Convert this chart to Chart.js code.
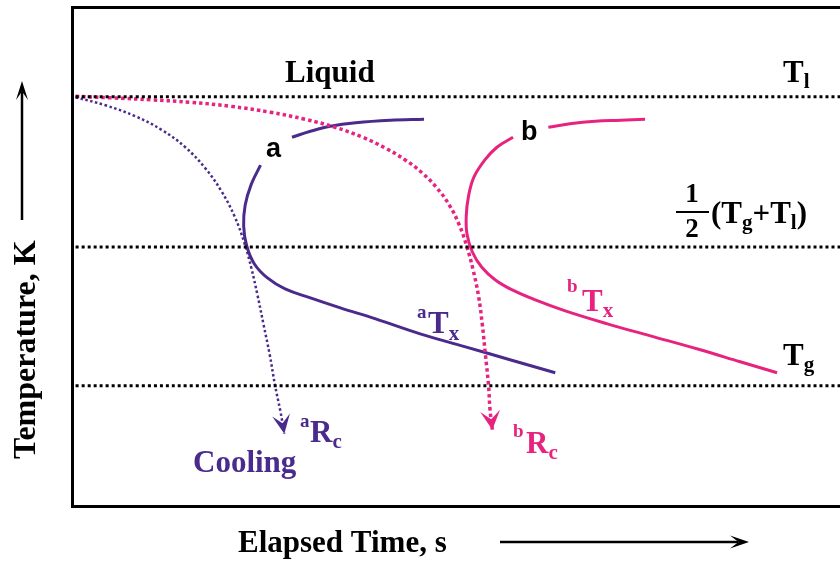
<!DOCTYPE html>
<html>
<head>
<meta charset="utf-8">
<script src="https://cdn.jsdelivr.net/npm/chart.js@4.4.0/dist/chart.umd.min.js"></script>
<style>
  body { margin: 0; background: #fff; }
  canvas { display: block; }
</style>
</head>
<body>
<canvas id="tttChart" width="840" height="561"></canvas>
<script>
// Schematic TTT diagram, time and temperature in arbitrary units (0-100)
const levelNames = ['Tl', 'half', 'Tg'];
const levelValues = [82.1, 52, 24.2];
const levelX = [0.4, 100];

// curve a (solid), split where the "a" label sits
const aUpperX = [28.6, 31.0, 33.6, 36.9, 41.4, 45.8];
const aUpperY = [74.0, 75.2, 76.2, 76.9, 77.4, 77.6];
const aLowerX = [24.5, 23.3, 22.5, 22.3, 22.7, 23.7, 25.4, 27.7, 31.0, 34.9, 39.5, 45.3, 51.2, 57.0, 62.9];
const aLowerY = [68.4, 64.6, 60.4, 56.2, 52.2, 48.6, 45.8, 43.6, 41.8, 39.8, 37.6, 34.6, 32.0, 29.4, 26.8];

// curve b (solid)
const bUpperX = [62.0, 64.8, 68.1, 71.4, 74.6];
const bUpperY = [76.0, 76.7, 77.2, 77.4, 77.6];
const bLowerX = [57.4, 55.3, 53.7, 52.3, 51.6, 51.3, 51.4, 52.1, 53.3, 55.1, 57.3, 60.3, 64.2, 69.7, 75.3, 81.8, 87.0, 91.8];
const bLowerY = [74.0, 72.0, 69.4, 66.0, 62.2, 58.2, 54.6, 51.0, 48.0, 45.4, 43.4, 41.4, 39.2, 36.6, 34.2, 31.4, 29.0, 26.8];

// critical cooling curves (dotted, with arrow)
const aCoolX = [0.4, 4.3, 8.2, 11.7, 14.7, 17.3, 19.4, 21.1, 22.4, 23.3, 24.1, 24.9, 25.7, 26.4, 27.1, 27.6];
const aCoolY = [82.0, 80.4, 78.2, 75.4, 72.0, 67.8, 63.2, 58.2, 52.8, 47.8, 42.4, 36.4, 30.4, 24.2, 19.0, 14.6];
const bCoolX = [0.4, 5.0, 10.2, 15.4, 20.6, 25.8, 30.3, 34.2, 37.8, 40.8, 43.4, 45.6, 47.5, 49.1, 50.4, 51.4, 52.2, 52.9, 53.4, 53.8, 54.2, 54.4, 54.7];
const bCoolY = [82.2, 81.9, 81.5, 81.0, 80.2, 79.0, 77.6, 76.0, 74.0, 71.8, 69.4, 66.8, 63.8, 60.4, 56.4, 52.0, 47.4, 42.2, 36.4, 30.4, 24.4, 19.4, 15.4];

const NAVY = '#4a2b8c';
const PINK = '#e6247f';
const SERIF = '"Liberation Serif", "Times New Roman", serif';

function pts(xs, ys) {
  return xs.map((x, i) => ({ x: x, y: ys[i] }));
}

const datasets = [];

levelValues.forEach((v, i) => {
  datasets.push({
    label: levelNames[i],
    data: pts(levelX, [v, v]),
    borderColor: '#000',
    borderWidth: 3,
    borderDash: [3, 3]
  });
});

datasets.push(
  { label: 'aCool', data: pts(aCoolX, aCoolY), borderColor: NAVY, borderWidth: 2.5, borderDash: [2.5, 2.5], arrow: { len: 19, half: 9 } },
  { label: 'bCool', data: pts(bCoolX, bCoolY), borderColor: PINK, borderWidth: 3.5, borderDash: [3.5, 3], arrow: { len: 19, half: 10 } },
  { label: 'aUpper', data: pts(aUpperX, aUpperY), borderColor: NAVY, borderWidth: 3 },
  { label: 'aLower', data: pts(aLowerX, aLowerY), borderColor: NAVY, borderWidth: 3 },
  { label: 'bUpper', data: pts(bUpperX, bUpperY), borderColor: PINK, borderWidth: 3 },
  { label: 'bLower', data: pts(bLowerX, bLowerY), borderColor: PINK, borderWidth: 3 }
);

// draws text made of pieces (normal / super / subscript)
function runs(ctx, x, y, parts, color) {
  ctx.fillStyle = color;
  ctx.textAlign = 'left';
  ctx.textBaseline = 'alphabetic';
  parts.forEach(p => {
    ctx.font = 'bold ' + p[1] + 'px ' + SERIF;
    ctx.fillText(p[0], x, y + (p[2] || 0));
    x += ctx.measureText(p[0]).width;
  });
}

function stealth(ctx, tx, ty, ang, len, half, color) {
  const c = Math.cos(ang), s = Math.sin(ang);
  const bx = tx - c * len, by = ty - s * len;
  ctx.save();
  ctx.fillStyle = color;
  ctx.beginPath();
  ctx.moveTo(tx, ty);
  ctx.lineTo(bx - s * half, by + c * half);
  ctx.lineTo(tx - c * len * 0.55, ty - s * len * 0.55);
  ctx.lineTo(bx + s * half, by - c * half);
  ctx.closePath();
  ctx.fill();
  ctx.restore();
}

const decorations = {
  id: 'decorations',
  afterDatasetsDraw(chart) {
    const ctx = chart.ctx;
    chart.data.datasets.forEach((ds, i) => {
      if (!ds.arrow) return;
      const el = chart.getDatasetMeta(i).data;
      const last = el[el.length - 1], prev = el[el.length - 2];
      const ang = Math.atan2(last.y - prev.y, last.x - prev.x);
      stealth(ctx, last.x, last.y, ang, ds.arrow.len, ds.arrow.half, ds.borderColor);
    });
  },
  afterDraw(chart) {
    const ctx = chart.ctx;
    ctx.save();

    runs(ctx, 285, 82, [['Liquid', 31]], '#000');
    runs(ctx, 783, 82, [['T', 31], ['l', 21, 6]], '#000');
    runs(ctx, 783, 365, [['T', 31], ['g', 21, 6]], '#000');

    // 1/2 (Tg+Tl)
    ctx.font = 'bold 27px ' + SERIF;
    ctx.fillStyle = '#000';
    ctx.textAlign = 'center';
    ctx.fillText('1', 692, 202);
    ctx.fillText('2', 692, 237);
    ctx.fillRect(676, 211, 33, 2);
    runs(ctx, 711, 223, [['(', 31], ['T', 31], ['g', 21, 6], ['+', 31], ['T', 31], ['l', 21, 6], [')', 31]], '#000');

    // curve names
    ctx.font = 'bold 27px "Liberation Sans", Arial, sans-serif';
    ctx.fillStyle = '#000';
    ctx.textAlign = 'left';
    ctx.fillText('a', 266, 157);
    ctx.fillText('b', 521, 140);

    runs(ctx, 417, 318, [['a', 19]], NAVY);
    runs(ctx, 428, 333, [['T', 31], ['x', 21, 7]], NAVY);
    runs(ctx, 567, 292, [['b', 19]], PINK);
    runs(ctx, 582, 311, [['T', 31], ['x', 21, 6]], PINK);

    runs(ctx, 300, 427, [['a', 19]], NAVY);
    runs(ctx, 310, 442, [['R', 31], ['c', 21, 6]], NAVY);
    runs(ctx, 513, 437, [['b', 19]], PINK);
    runs(ctx, 526, 453, [['R', 31], ['c', 21, 6]], PINK);
    runs(ctx, 193, 472, [['Cooling', 31]], NAVY);

    // axis labels with arrows
    runs(ctx, 238, 552, [['Elapsed Time, s', 31]], '#000');
    ctx.strokeStyle = '#000';
    ctx.lineWidth = 2.5;
    ctx.beginPath();
    ctx.moveTo(500, 542);
    ctx.lineTo(738, 542);
    ctx.stroke();
    stealth(ctx, 749, 542, 0, 19, 6.5, '#000');

    ctx.save();
    ctx.translate(35, 459);
    ctx.rotate(-Math.PI / 2);
    runs(ctx, 0, 0, [['Temperature, K', 32]], '#000');
    ctx.restore();
    ctx.beginPath();
    ctx.moveTo(22, 220);
    ctx.lineTo(22, 92);
    ctx.stroke();
    stealth(ctx, 22, 81, -Math.PI / 2, 19, 6, '#000');

    ctx.restore();
  }
};

const frame = { display: true, color: '#000', width: 3 };
const hidden = { display: false, drawTicks: false };

new Chart(document.getElementById('tttChart').getContext('2d'), {
  type: 'line',
  data: { datasets: datasets },
  options: {
    responsive: false,
    animation: false,
    devicePixelRatio: 1,
    elements: {
      point: { radius: 0, hoverRadius: 0 },
      line: { tension: 0.4, fill: false }
    },
    layout: { padding: { left: 72.5, top: 7.5, right: 0, bottom: 54.5 } },
    plugins: { legend: { display: false }, tooltip: { enabled: false } },
    scales: {
      x: { type: 'linear', min: 0, max: 100, ticks: { display: false }, grid: hidden, border: frame },
      xTop: { type: 'linear', position: 'top', min: 0, max: 100, ticks: { display: false }, grid: hidden, border: frame },
      y: { type: 'linear', min: 0, max: 100, ticks: { display: false }, grid: hidden, border: frame }
    }
  },
  plugins: [decorations]
});
</script>
</body>
</html>
